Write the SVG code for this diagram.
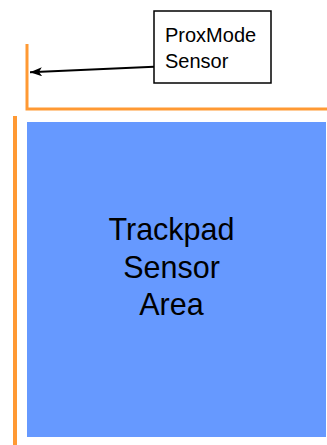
<svg xmlns="http://www.w3.org/2000/svg" width="327" height="445" viewBox="0 0 327 445">
<style>
.orange{stroke:#FF9933;fill:none;stroke-linecap:butt}
.lbl{font-family:"Liberation Sans",Arial,sans-serif;fill:#000}
</style>
<defs>
<marker id="ah" markerWidth="12" markerHeight="9" refX="12" refY="4.5" orient="auto" markerUnits="userSpaceOnUse">
<path d="M0,0 L12,4.5 L0,9 L3,4.5 Z" fill="#000"/>
</marker>
</defs>
<rect width="327" height="445" fill="#fff"/>
<g id="prox-outline">
<path class="orange" d="M27,44 L27,109 L327,109" stroke-width="3"/>
</g>
<g id="trackpad-edge">
<line class="orange" x1="15" y1="116" x2="15" y2="445" stroke-width="4"/>
</g>
<g id="trackpad">
<rect x="27" y="122" width="299" height="315" fill="#6699FF"/>
<text class="lbl" font-size="30.5" text-anchor="middle"><tspan x="171.5" y="240">Trackpad</tspan><tspan x="171.5" y="278">Sensor</tspan><tspan x="171.5" y="315">Area</tspan></text>
</g>
<g id="proxmode-sensor">
<rect x="154" y="11" width="117" height="72" fill="#fff" stroke="#000" stroke-width="1.5"/>
<text class="lbl" font-size="20"><tspan x="165" y="42">ProxMode</tspan><tspan x="165" y="68">Sensor</tspan></text>
</g>
<g id="connectors">
<line x1="154" y1="66.7" x2="30" y2="72.3" stroke="#000" stroke-width="2" marker-end="url(#ah)"/>
</g>
</svg>
